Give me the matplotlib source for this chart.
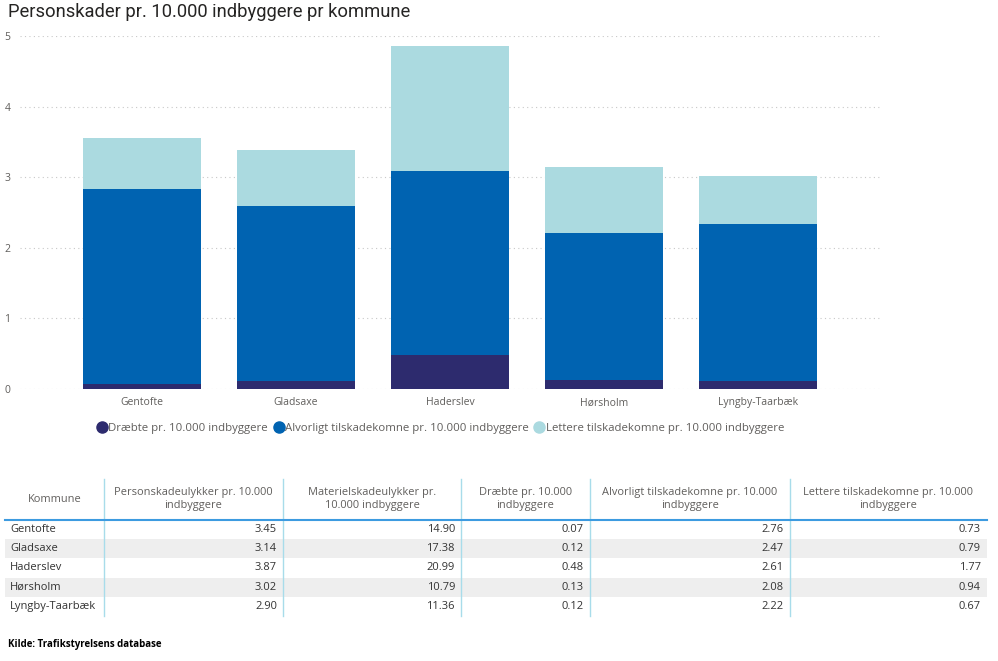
import numpy as np
import matplotlib
matplotlib.use("Agg")
from matplotlib import pyplot as plt
from matplotlib.patches import Rectangle
from matplotlib.lines import Line2D

# data
kommuner = ["Gentofte", "Gladsaxe", "Haderslev", "Hørsholm", "Lyngby-Taarbæk"]
personskade = [3.45, 3.14, 3.87, 3.02, 2.90]
materielskade = [14.90, 17.38, 20.99, 10.79, 11.36]
draebte = [0.07, 0.12, 0.48, 0.13, 0.12]
alvorligt = [2.76, 2.47, 2.61, 2.08, 2.22]
lettere = [0.73, 0.79, 1.77, 0.94, 0.67]

series_names = [
    "Dræbte pr. 10.000 indbyggere",
    "Alvorligt tilskadekomne pr. 10.000 indbyggere",
    "Lettere tilskadekomne pr. 10.000 indbyggere",
]
headers = [
    "Kommune",
    "Personskadeulykker pr. 10.000\nindbyggere",
    "Materielskadeulykker pr.\n10.000 indbyggere",
    "Dræbte pr. 10.000\nindbyggere",
    "Alvorligt tilskadekomne pr. 10.000\nindbyggere",
    "Lettere tilskadekomne pr. 10.000\nindbyggere",
]

colors = ["#2d2b6e", "#0063b1", "#abdae0"]
grey = "#605e5c"

plt.rcParams["font.family"] = ["Open Sans", "DejaVu Sans"]

W, H = 998, 661
fig = plt.figure(figsize=(W / 100, H / 100), dpi=100)

# background axes in pixel coordinates, used for the table
bg = fig.add_axes([0, 0, 1, 1])
bg.set_xlim(0, W)
bg.set_ylim(H, 0)
bg.axis("off")

# chart
ax = fig.add_axes([20 / W, 1 - 389 / H, 860 / W, 353 / H])
x = np.arange(len(kommuner))
bottom = np.zeros(len(kommuner))
for vals, c, name in zip([draebte, alvorligt, lettere], colors, series_names):
    ax.bar(x, vals, width=0.766, bottom=bottom, color=c, label=name, zorder=2)
    bottom += np.array(vals)

ax.set_xlim(-0.79, 4.79)
ax.set_ylim(0, 5)
ax.set_yticks([0, 1, 2, 3, 4, 5])
ax.grid(axis="y", color="#c8c8c8", linestyle=(0, (1, 3)), linewidth=0.8, zorder=0)
for s in ax.spines.values():
    s.set_visible(False)
ax.tick_params(axis="both", length=0, colors=grey, labelsize=7.5)
ax.tick_params(axis="y", pad=7)
ax.tick_params(axis="x", pad=6)
ax.set_xticks(x)
ax.set_xticklabels(kommuner)

handles = [Line2D([], [], marker="o", linestyle="none", markersize=8,
                  markerfacecolor=c, markeredgecolor=c) for c in colors]
leg = ax.legend(
    handles, series_names,
    loc="center",
    bbox_to_anchor=(441 / W, 1 - 428 / H),
    bbox_transform=fig.transFigure,
    ncol=3,
    frameon=False,
    fontsize=8.2,
    handlelength=0.7,
    handletextpad=0.2,
    columnspacing=0.6,
    labelcolor=grey,
)

fig.text(8 / W, 1 - 12 / H, "Personskader pr. 10.000 indbyggere pr kommune",
         fontsize=13.2, color="#252423", va="center", ha="left",
         family=["Roboto", "DejaVu Sans"])

# table
seps = [104, 283, 461, 590, 790]
col_edges = [5] + seps + [987]
row_top = 520
row_h = 19.2
for i in range(len(kommuner)):
    y0 = row_top + i * row_h
    if i % 2 == 1:
        bg.add_patch(Rectangle((5, y0), 982, row_h, color="#eeeeee", lw=0))
for sx in seps:
    bg.plot([sx, sx], [479, row_top + 5 * row_h], color="#a8dcea", lw=1)
bg.plot([5, 987], [row_top, row_top], color="#3d9be0", lw=1.5)

for j, hd in enumerate(headers):
    cx = (col_edges[j] + col_edges[j + 1]) / 2
    if j == 0:
        cx = 55
    bg.text(cx, 499, hd, ha="center", va="center", fontsize=7.9, color=grey,
            linespacing=1.25)

cols = [personskade, materielskade, draebte, alvorligt, lettere]
for i, k in enumerate(kommuner):
    yc = row_top + i * row_h + row_h / 2
    bg.text(10, yc, k, ha="left", va="center", fontsize=8, color="#333333")
    for j, col in enumerate(cols):
        bg.text(col_edges[j + 2] - 6, yc, "%.2f" % col[i], ha="right",
                va="center", fontsize=8, color="#333333")

bg.text(8, 645, "Kilde: Trafikstyrelsens database", ha="left", va="center",
        fontsize=7, fontweight="bold", color="black")

fig.savefig("out.png", dpi=100)
